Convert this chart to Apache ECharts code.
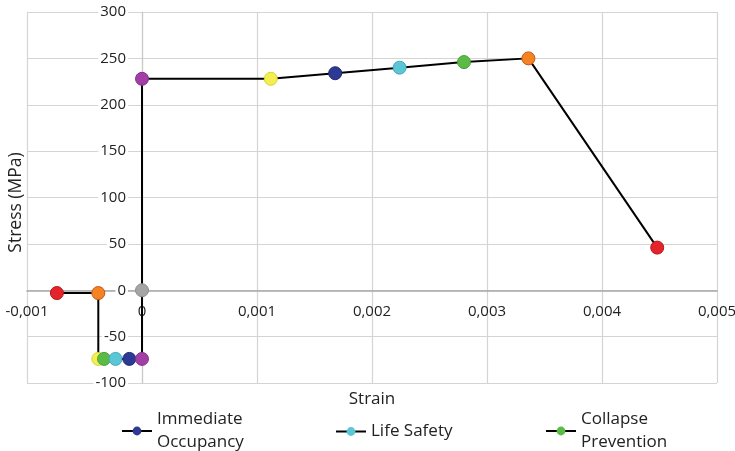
<!DOCTYPE html>
<html>
<head>
<meta charset="utf-8">
<script src="https://cdn.jsdelivr.net/npm/echarts@6/dist/echarts.min.js"></script>
<style>
  html, body { margin: 0; padding: 0; background: #ffffff; }
  #chart { width: 735px; height: 451px; }
</style>
</head>
<body>
<div id="chart"></div>
<script>
// Backbone curve of the hinge: strain / stress pairs, walked in drawing order
const strain = [-0.00074, -0.00038, -0.00038, -0.00033, -0.00023, -0.00011, 0, 0, 0, 0.00112, 0.00168, 0.00224, 0.0028, 0.00336, 0.00448];
const stress = [-3, -3, -74, -74, -74, -74, -74, 0, 228, 228, 234, 240, 246, 250, 46];
// Performance point reached at each vertex
const pointState = ['D', 'C', 'OP', 'CP', 'LS', 'IO', 'B', 'A', 'B', 'OP', 'IO', 'LS', 'CP', 'C', 'D'];

// Legend entries and the state each one marks
const legendNames = ['Immediate Occupancy', 'Life Safety', 'Collapse Prevention'];
const legendStates = ['IO', 'LS', 'CP'];

// Axis ticks
const xTicks = [-0.001, 0, 0.001, 0.002, 0.003, 0.004, 0.005];
const yTicks = [-100, -50, 0, 50, 100, 150, 200, 250, 300];

// Marker fill / outline per state
const stateFill = {
  A: '#a5a5a5', B: '#a23fa6', OP: '#f4ee4f', IO: '#2c3a93',
  LS: '#5cc6d6', CP: '#5cbb47', C: '#f58322', D: '#e5232b'
};
const stateEdge = {
  A: '#8c8c8c', B: '#86308a', OP: '#d8d23a', IO: '#1f2a75',
  LS: '#44aabb', CP: '#49a036', C: '#c9561a', D: '#b5161c'
};

const FONT = '"Open Sans", "Noto Sans", sans-serif';

const curve = strain.map((x, i) => ({
  value: [x, stress[i]],
  itemStyle: { color: stateFill[pointState[i]], borderColor: stateEdge[pointState[i]], borderWidth: 1 }
}));

const legendSeries = legendNames.map((name, i) => ({
  name: name,
  type: 'line',
  data: [],
  symbol: 'circle',
  lineStyle: { color: '#000000', width: 2 },
  itemStyle: { color: stateFill[legendStates[i]] }
}));

const legendLabel = {
  'Immediate Occupancy': 'Immediate\nOccupancy',
  'Life Safety': 'Life Safety',
  'Collapse Prevention': 'Collapse\nPrevention'
};
const legendLeft = [121, 335, 545];
const legendTop = [408, 420, 408];

const chart = echarts.init(document.getElementById('chart'), null, { renderer: 'canvas' });

chart.setOption({
  animation: false,
  backgroundColor: '#ffffff',
  textStyle: { fontFamily: FONT },
  grid: { left: 27, right: 18, top: 12, bottom: 68, containLabel: false, outerBoundsMode: 'none' },
  legend: legendNames.map((name, i) => ({
    data: [name],
    left: legendLeft[i],
    top: legendTop[i],
    padding: 0,
    itemWidth: 30,
    itemHeight: 11,
    formatter: n => legendLabel[n],
    textStyle: { fontFamily: FONT, fontSize: 17, color: '#222222', lineHeight: 23 }
  })),
  xAxis: {
    type: 'value',
    position: 'bottom',
    min: xTicks[0],
    max: xTicks[xTicks.length - 1],
    interval: 0.001,
    name: 'Strain',
    nameLocation: 'middle',
    nameGap: 100,
    nameTextStyle: { fontFamily: FONT, fontSize: 17, color: '#222222' },
    axisLine: { onZero: false, lineStyle: { color: '#a8a8a8', width: 1.5 } },
    axisTick: { show: false },
    axisLabel: {
      margin: 14,
      fontFamily: FONT,
      fontSize: 15,
      color: '#222222',
      formatter: v => (Math.abs(v) < 1e-12 ? '0' : v.toFixed(3).replace('.', ','))
    },
    splitLine: { show: true, lineStyle: { color: '#d4d4d4', width: 1.2 } }
  },
  yAxis: {
    type: 'value',
    position: 'left',
    min: yTicks[0],
    max: yTicks[yTicks.length - 1],
    interval: 50,
    name: 'Stress (MPa)',
    nameLocation: 'middle',
    nameGap: 117,
    nameTextStyle: { fontFamily: FONT, fontSize: 17.5, color: '#222222', padding: [0, 10, 0, 0] },
    axisLine: { onZero: false, lineStyle: { color: '#c8c8c8', width: 1.2 } },
    axisTick: { show: false },
    axisLabel: {
      margin: 14,
      fontFamily: FONT,
      fontSize: 15,
      color: '#222222',
      backgroundColor: '#ffffff',
      padding: [0, 2, 0, 2]
    },
    splitLine: { show: true, lineStyle: { color: '#d4d4d4', width: 1.2 } }
  },
  series: [
    {
      name: 'Backbone',
      type: 'line',
      data: curve,
      symbol: 'circle',
      symbolSize: 13,
      showAllSymbol: true,
      lineStyle: { color: '#000000', width: 2 },
      z: 3
    }
  ].concat(legendSeries)
});

// Slide both axes (labels, line and title) onto the origin so they cross at (0, 0)
const origin = chart.convertToPixel({ gridIndex: 0 }, [0, 0]);
const corner = chart.convertToPixel({ gridIndex: 0 }, [xTicks[0], yTicks[0]]);
chart.setOption({
  xAxis: { offset: -(corner[1] - origin[1]) },
  yAxis: { offset: -(origin[0] - corner[0]) }
});
</script>
</body>
</html>
